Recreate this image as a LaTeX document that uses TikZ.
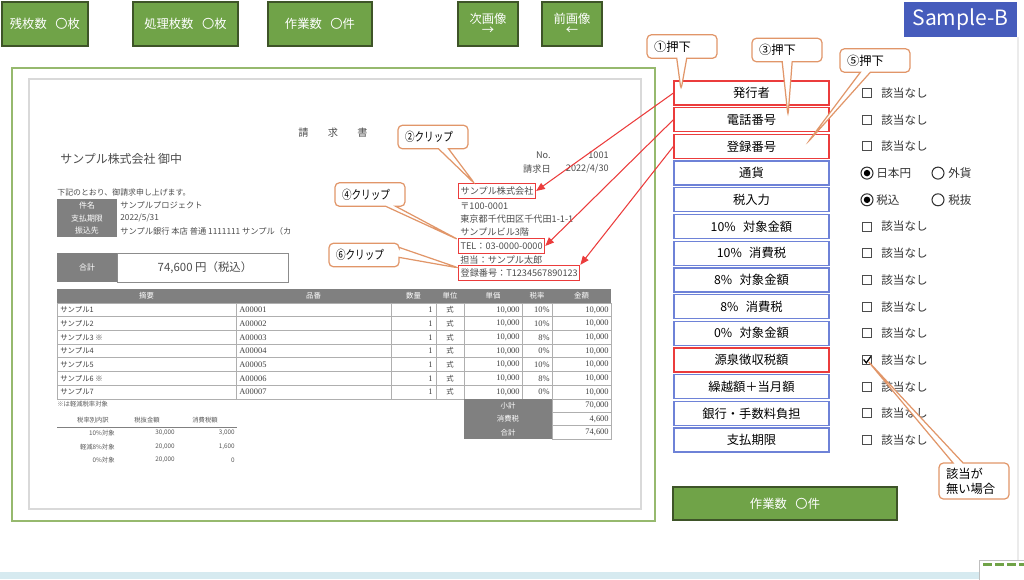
\documentclass[tikz,border=0pt]{standalone}
\usepackage{fontspec}
\setmainfont{Noto Sans CJK JP}
\newfontfamily\narrowjp{Noto Sans CJK JP}[FakeStretch=0.78]
\newfontfamily\numfont{Liberation Serif}
\usepackage{tikz}
\usetikzlibrary{shapes.callouts,arrows.meta,positioning}

\definecolor{btngreen}{RGB}{112,163,72}
\definecolor{btnedge}{RGB}{62,84,40}
\definecolor{framegreen}{RGB}{150,185,110}
\definecolor{sampleblue}{RGB}{70,92,188}
\definecolor{fieldblue}{RGB}{110,130,215}
\definecolor{boxred}{RGB}{235,60,60}
\definecolor{calloutorange}{RGB}{225,150,105}
\definecolor{invgray}{RGB}{128,128,128}
\definecolor{tblgray}{RGB}{175,175,175}
\definecolor{taskbar}{RGB}{214,234,240}

\newcommand{\fsz}[1]{\fontsize{#1}{#1}\selectfont}

\tikzset{
  btn/.style={
    draw = btnedge,
    fill = btngreen,
    text = white,
    line width = 0.7pt,
    inner sep = 0pt,
    font = \fsz{7}
  },
  field/.style={
    draw = fieldblue,
    fill = white,
    line width = 0.7pt,
    minimum width = 3.1cm,
    minimum height = 0.48cm,
    inner sep = 0pt,
    font = \fsz{7}
  },
  fieldred/.style={
    field,
    draw = boxred
  },
  note/.style={
    rectangle callout,
    draw = calloutorange,
    fill = white,
    rounded corners = 2.5pt,
    line width = 0.7pt,
    callout pointer width = 0.2cm,
    inner xsep = 0.14cm,
    inner ysep = 0pt,
    text width = 1.12cm,
    align = left,
    minimum height = 0.47cm,
    font = \fsz{7}
  },
  redarrow/.style={
    draw = boxred,
    line width = 0.6pt,
    -{Triangle[length=5pt,width=4pt]}
  },
  inv/.style={
    inner sep = 0pt,
    text = black!70,
    font = \fsz{5.2}
  },
  invw/.style={
    inner sep = 0pt,
    text = white,
    font = \fsz{4.5}
  },
  redbox/.style={
    inv,
    draw = boxred,
    line width = 0.8pt,
    inner xsep = 1.1pt,
    minimum height = 0.3cm
  },
  tbl/.style={
    inner sep = 0pt,
    text = black!75,
    font = \fsz{4.2}
  },
  tblw/.style={
    inner sep = 0pt,
    text = white,
    font = \fsz{4.2}
  },
  tblnum/.style={
    inner sep = 0pt,
    text = black!75,
    font = \numfont\fsz{4.8}
  },
  tiny/.style={
    inner sep = 0pt,
    text = black!65,
    font = \fsz{3.6}
  },
  tblline/.style={
    draw = tblgray,
    line width = 0.4pt
  },
  chk/.style={
    draw = black!70,
    line width = 0.5pt,
    minimum size = 0.18cm,
    inner sep = 0pt
  },
  radiooff/.style={
    circle,
    draw = black!80,
    line width = 0.6pt,
    minimum size = 0.24cm,
    inner sep = 0pt
  },
  radioon/.style={
    radiooff,
    path picture={\fill[black] (path picture bounding box.center) circle (0.065cm);}
  },
  opt/.style={
    inner sep = 0pt,
    text = black!80,
    font = \fsz{6.6}
  }
}

\begin{document}
\begin{tikzpicture}[x=0.02cm,y=-0.02cm]
    \useasboundingbox (0,0) rectangle (1024,579);

    % top buttons
    \node[btn, minimum width=1.72cm, minimum height=0.88cm] (zan) at (45,24) {残枚数\hspace{0.7em}〇枚};
    \node[btn, minimum width=2.1cm, minimum height=0.88cm] (shori) at (185.5,24) {処理枚数\hspace{0.7em}〇枚};
    \node[btn, minimum width=2.08cm, minimum height=0.88cm] (sagyo) at (320,24) {作業数\hspace{0.7em}〇件};
    \node[btn, minimum width=1.2cm, minimum height=0.88cm, align=center] (next) at (488,24) {次画像\\[-1pt]→};
    \node[btn, minimum width=1.2cm, minimum height=0.88cm, align=center] (prev) at (572,24) {前画像\\[-1pt]←};

    \node[fill=sampleblue, text=white, minimum width=2.26cm, minimum height=0.7cm, inner sep=0pt, font=\fsz{12}] (sample) at (960.5,19.5) {Sample-B};
    \draw[black!8, line width=0.6pt] (1018,37) -- (1018,560);

    % invoice frames
    \draw[framegreen, line width=0.8pt] (12,68) rectangle (655,521);
    \draw[black!15, line width=0.8pt] (29,79) rectangle (641,509);

    \node[inv, font=\fsz{5.8}] (title) at (333,133) {請\hspace{11pt}求\hspace{11pt}書};
    \node[inv, anchor=west, font=\fsz{6.8}] (atena) at (60,159) {サンプル株式会社 御中};
    \node[inv, anchor=east] (noL) at (551,155) {No.};
    \node[inv, anchor=east] (noV) at (609,155) {1001};
    \node[inv, anchor=east] (dtL) at (551,169) {請求日};
    \node[inv, anchor=east] (dtV) at (609,169) {2022/4/30};

    \node[inv, anchor=west, font=\fsz{4.5}] (lead) at (57,192) {下記のとおり、御請求申し上げます。};
    \fill[invgray] (57,199) rectangle (117,237);
    \node[invw] (k1) at (87,205) {件名};
    \node[invw] (k2) at (87,218) {支払期限};
    \node[invw] (k3) at (87,231) {振込先};
    \node[inv, anchor=west, font=\fsz{4.7}] (v1) at (120,205) {サンプルプロジェクト};
    \node[inv, anchor=west, font=\fsz{4.7}] (v2) at (120,218) {2022/5/31};
    \node[inv, anchor=west, font=\fsz{4.7}] (v3) at (120,231) {サンプル銀行 本店 普通 1111111 サンプル（カ};

    \fill[invgray] (57,253) rectangle (117,282);
    \node[invw] (gk) at (87,267.5) {合計};
    \draw[black!45, line width=0.5pt] (117,253) rectangle (288,282);
    \node[inv, font=\fsz{6.5}] (gv) at (205,267.5) {74,600 円（税込）};

    % issuer block
    \node[redbox, anchor=west] (rb1) at (458,191) {サンプル株式会社};
    \node[inv, anchor=west] (ad1) at (460,206) {〒100-0001};
    \node[inv, anchor=west] (ad2) at (460,219) {東京都千代田区千代田1-1-1};
    \node[inv, anchor=west] (ad3) at (460,232) {サンプルビル3階};
    \node[redbox, anchor=west] (rb2) at (458,246) {TEL：03-0000-0000};
    \node[inv, anchor=west] (ad4) at (460,260) {担当：サンプル太郎};
    \node[redbox, anchor=west] (rb3) at (458,273) {登録番号：T1234567890123};

    % item table
    \fill[invgray] (57,289) rectangle (611,303);
    \node[tblw] (h1) at (146.5,296) {摘要};
    \node[tblw] (h2) at (313.5,296) {品番};
    \node[tblw] (h3) at (413.5,296) {数量};
    \node[tblw] (h4) at (450,296) {単位};
    \node[tblw] (h5) at (493,296) {単価};
    \node[tblw] (h6) at (537,296) {税率};
    \node[tblw] (h7) at (581.5,296) {金額};

    \foreach \k in {0,...,7}
        \draw[tblline] (57,303+13.7*\k) -- (611,303+13.7*\k);
    \foreach \cx in {57,236,391,436,464,522,552,611}
        \draw[tblline] (\cx,303) -- (\cx,398.9);

    \foreach \i/\nm/\cd/\rt in {1/サンプル1/A00001/10\%, 2/サンプル2/A00002/10\%, 3/サンプル3 ※/A00003/8\%, 4/サンプル4/A00004/0\%, 5/サンプル5/A00005/10\%, 6/サンプル6 ※/A00006/8\%, 7/サンプル7/A00007/0\%}{
        \pgfmathsetmacro\ry{296.15+13.7*\i}
        \node[tbl, anchor=west] (nm\i) at (60,\ry) {\nm};
        \node[tblnum, anchor=west] (cd\i) at (239,\ry) {\cd};
        \node[tblnum, anchor=east] (qt\i) at (433,\ry) {1};
        \node[tbl] (un\i) at (450,\ry) {式};
        \node[tblnum, anchor=east] (up\i) at (520,\ry) {10,000};
        \node[tblnum, anchor=east] (rt\i) at (550,\ry) {\rt};
        \node[tblnum, anchor=east] (am\i) at (609,\ry) {10,000};
    }

    \fill[invgray] (464,399) rectangle (552,439);
    \foreach \k/\lb/\vl in {0/小計/{70,000}, 1/消費税/{4,600}, 2/合計/{74,600}}{
        \draw[tblline] (552,399+13.3*\k) rectangle (611,412.3+13.3*\k);
        \node[tblw] (sl\k) at (508,405.7+13.3*\k) {\lb};
        \node[tblnum, anchor=east] (sv\k) at (609,405.7+13.3*\k) {\vl};
    }

    \node[tiny, anchor=west] (kome) at (57,404) {※は軽減税率対象};
    \node[tiny] (th1) at (93,420) {税率別内訳};
    \node[tiny] (th2) at (147,420) {税抜金額};
    \node[tiny] (th3) at (205,420) {消費税額};
    \draw[black!50, line width=0.4pt] (57,427) -- (237,427);
    \foreach \k/\a/\b/\c/\yy in {1/10\%対象/{30,000}/{3,000}/433, 2/軽減8\%対象/{20,000}/{1,600}/447, 3/0\%対象/{20,000}/0/460}{
        \node[tiny, anchor=east] (ta\k) at (115,\yy) {\a};
        \node[tiny, anchor=east] (tb\k) at (175,\yy) {\b};
        \node[tiny, anchor=east] (tc\k) at (235,\yy) {\c};
    }

    % input fields
    \node[fieldred] (f0) at (751.5,93) {発行者};
    \node[fieldred] (f1) at (751.5,119.7) {電話番号};
    \node[fieldred] (f2) at (751.5,146.4) {登録番号};
    \node[field] (f3) at (751.5,173.1) {通貨};
    \node[field] (f4) at (751.5,199.8) {税入力};
    \node[field] (f5) at (751.5,226.5) {10\%\hspace{0.6em}対象金額};
    \node[field] (f6) at (751.5,253.2) {10\%\hspace{0.6em}消費税};
    \node[field] (f7) at (751.5,279.9) {8\%\hspace{0.6em}対象金額};
    \node[field] (f8) at (751.5,306.6) {8\%\hspace{0.6em}消費税};
    \node[field] (f9) at (751.5,333.3) {0\%\hspace{0.6em}対象金額};
    \node[fieldred] (f10) at (751.5,360) {源泉徴収税額};
    \node[field] (f11) at (751.5,386.7) {繰越額＋当月額};
    \node[field] (f12) at (751.5,413.4) {銀行・手数料負担};
    \node[field] (f13) at (751.5,440.1) {支払期限};

    % options
    \foreach \i in {0,1,2,5,6,7,8,9,10,11,12,13}{
        \node[chk] (c\i) at (867,93+26.7*\i) {};
        \node[opt, anchor=west] (g\i) at (881,93+26.7*\i) {該当なし};
    }
    \draw[black, line width=0.7pt] ([xshift=0.9pt,yshift=0.3pt]c10.west) -- ([xshift=-0.4pt,yshift=1.2pt]c10.south) -- ([xshift=-0.6pt,yshift=-0.8pt]c10.north east);

    \node[radioon] (y3) at (867,173.1) {};
    \node[opt, anchor=west] (y3t) at (876,173.1) {日本円};
    \node[radiooff] (x3) at (938,173.1) {};
    \node[opt, anchor=west] (x3t) at (948,173.1) {外貨};
    \node[radioon] (y4) at (867,199.8) {};
    \node[opt, anchor=west] (y4t) at (876,199.8) {税込};
    \node[radiooff] (x4) at (938,199.8) {};
    \node[opt, anchor=west] (x4t) at (948,199.8) {税抜};

    \node[btn, minimum width=4.48cm, minimum height=0.66cm] (sagyo2) at (785,503.5) {作業数\hspace{0.7em}〇件};

    % callouts
    \coordinate (tip1) at (681,90);
    \coordinate (tip3) at (788,116);
    \coordinate (tip5) at (808,142);
    \coordinate (tip2) at (475,184);
    \coordinate (tip4) at (459,240);
    \coordinate (tip6) at (459,268);
    \node[note, callout absolute pointer=(tip1)] (co1) at (682,46.5) {①押下};
    \node[note, callout absolute pointer=(tip3)] (co3) at (787,50) {③押下};
    \node[note, callout absolute pointer=(tip5)] (co5) at (875,60.5) {⑤押下};
    \node[note, callout absolute pointer=(tip2), font=\narrowjp\fsz{7}] (co2) at (433,137) {②クリップ};
    \node[note, callout absolute pointer=(tip4), font=\narrowjp\fsz{7}] (co4) at (370,194.5) {④クリップ};
    \node[note, callout absolute pointer=(tip6), font=\narrowjp\fsz{7}] (co6) at (364,255) {⑥クリップ};
    \node[note, callout absolute pointer=(c10.center), minimum height=0.72cm, font=\fontsize{7}{8.6}\selectfont] (co7) at (974,481) {該当が\\無い場合};

    % links to the clipped fields
    \draw[redarrow] (f0.west) -- (rb1.east);
    \draw[redarrow] (f1.west) -- (rb2.east);
    \draw[redarrow] (f2.west) -- (rb3.north east);

    % taskbar
    \fill[taskbar] (0,572) rectangle (1024,579);
    \draw[black!25, fill=white] (979,560) rectangle (1030,585);
    \foreach \tx in {983,995,1007,1019}
        \fill[btngreen] (\tx,562.5) rectangle (\tx+9,566);
\end{tikzpicture}
\end{document}
